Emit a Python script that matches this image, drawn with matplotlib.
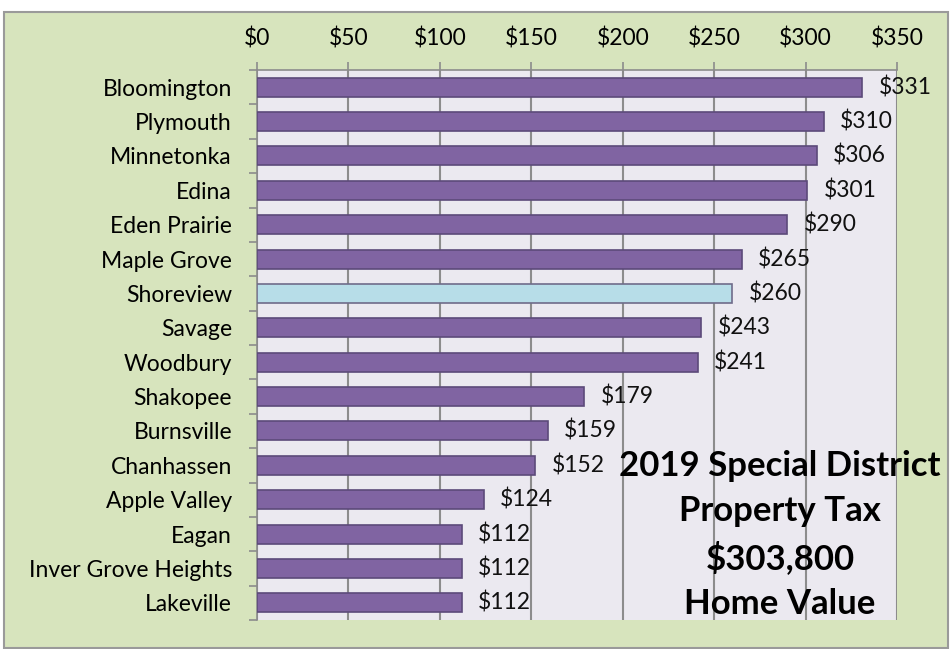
import numpy as np
import matplotlib.pyplot as plt
from matplotlib.patches import Rectangle

cities = ['Bloomington', 'Plymouth', 'Minnetonka', 'Edina', 'Eden Prairie',
          'Maple Grove', 'Shoreview', 'Savage', 'Woodbury', 'Shakopee',
          'Burnsville', 'Chanhassen', 'Apple Valley', 'Eagan',
          'Inver Grove Heights', 'Lakeville']
taxes = [331, 310, 306, 301, 290, 265, 260, 243, 241, 179, 159, 152, 124, 112, 112, 112]
highlight = 'Shoreview'
x_ticks = [0, 50, 100, 150, 200, 250, 300, 350]

plt.rcParams['font.family'] = ['Lato', 'DejaVu Sans']

fig = plt.figure(figsize=(9.53, 6.49), dpi=100)
fig.patch.set_facecolor('white')
# green chart-area background with gray border, kept behind the axes
fig.patches.append(Rectangle((4 / 953, 1 - 648 / 649), 944 / 953, 636 / 649,
                             transform=fig.transFigure, facecolor='#d7e4bd',
                             edgecolor='#9a9a9a', linewidth=1.5, zorder=-10))

W, H = 953, 649
left, right, top, bottom = 257, 897, 70, 620
ax = fig.add_axes([left / W, 1 - bottom / H, (right - left) / W, (bottom - top) / H])
ax.set_facecolor('#ebe9f0')

y = np.arange(len(cities))
colors = ['#b7dde8' if c == highlight else '#8064a2' for c in cities]
edges = ['#6f6c8a' if c == highlight else '#5c4a7a' for c in cities]
ax.barh(y, taxes, height=0.55, color=colors, edgecolor=edges, linewidth=1.2, zorder=3)

for yi, v in zip(y, taxes):
    ax.text(v + 9, yi, f'${v}', va='center', ha='left', fontsize=16.5, color='#111111', zorder=4)

ax.set_xlim(0, 350)
ax.set_ylim(len(cities) - 0.5, -0.5)
ax.set_xticks(x_ticks)
ax.set_xticklabels([f'${t}' for t in x_ticks], fontsize=16.5)
ax.xaxis.tick_top()
ax.tick_params(axis='x', length=6, color='#8c8c8c', pad=9, width=1.2)

ax.set_yticks(y)
ax.set_yticklabels(cities, fontsize=16.5)
ax.set_yticks(np.arange(len(cities) + 1) - 0.5, minor=True)
ax.tick_params(axis='y', which='major', length=0, pad=18)
ax.tick_params(axis='y', which='minor', length=6, color='#8c8c8c', width=1.2)

ax.grid(axis='x', color='#8c8c8c', linewidth=1.5, zorder=1)
for s in ['right', 'bottom']:
    ax.spines[s].set_visible(False)
for s in ['left', 'top']:
    ax.spines[s].set_color('#8c8c8c')
    ax.spines[s].set_linewidth(1.2)

ax.text(0.817, 0.155, '2019 Special District\nProperty Tax\n$303,800\nHome Value',
        transform=ax.transAxes, ha='center', va='center', fontsize=25,
        fontweight='bold', linespacing=1.5, color='black', zorder=5)

fig.savefig('out.png', dpi=100)
